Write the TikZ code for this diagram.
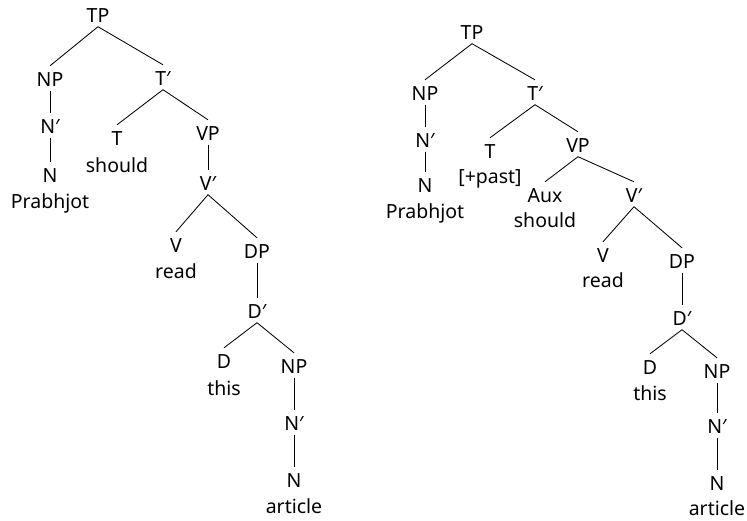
\documentclass[tikz,border=0pt]{standalone}
\usepackage{fontspec}
\setmainfont{Noto Sans}
\begin{document}
\begin{tikzpicture}[x=1pt,y=-1pt,
  cat/.style={anchor=base, inner sep=0pt, text height=20pt, text depth=4.5pt, font=\fontsize{19.5}{22}\selectfont},
  word/.style={anchor=base, inner sep=0pt, font=\fontsize{19.5}{22}\selectfont},
  edge/.style={draw=black, line width=0.85pt}]
\useasboundingbox (0,0) rectangle (747,520);
% left tree
\node[cat] (lTP) at (98,22) {TP};
\node[cat] (lNP) at (50,86) {NP};
\node[cat] (lNb) at (50,133) {N′};
\node[cat] (lN) at (50,182) {N};
\node[word] (lw1) at (50,208) {Prabhjot};
\node[cat] (lTb) at (163,85) {T′};
\node[cat] (lT) at (117,145) {T};
\node[word] (lw2) at (117,172) {should};
\node[cat] (lVP) at (208,140) {VP};
\node[cat] (lVb) at (208,190) {V′};
\node[cat] (lV) at (176,252) {V};
\node[word] (lw3) at (176,278) {read};
\node[cat] (lDP) at (257,258) {DP};
\node[cat] (lDb) at (257,318) {D′};
\node[cat] (lD) at (224,368) {D};
\node[word] (lw4) at (224,395) {this};
\node[cat] (lNP2) at (294,373) {NP};
\node[cat] (lNb2) at (294,430) {N′};
\node[cat] (lN2) at (294,487) {N};
\node[word] (lw5) at (294,513) {article};
\draw[edge] (lTP.south) -- (lNP.north);
\draw[edge] (lTP.south) -- (lTb.north);
\draw[edge] (lNP.south) -- (lNb.north);
\draw[edge] (lNb.south) -- (lN.north);
\draw[edge] (lTb.south) -- (lT.north);
\draw[edge] (lTb.south) -- (lVP.north);
\draw[edge] (lVP.south) -- (lVb.north);
\draw[edge] (lVb.south) -- (lV.north);
\draw[edge] (lVb.south) -- (lDP.north);
\draw[edge] (lDP.south) -- (lDb.north);
\draw[edge] (lDb.south) -- (lD.north);
\draw[edge] (lDb.south) -- (lNP2.north);
\draw[edge] (lNP2.south) -- (lNb2.north);
\draw[edge] (lNb2.south) -- (lN2.north);
% right tree
\node[cat] (rTP) at (472,39) {TP};
\node[cat] (rNP) at (425,100) {NP};
\node[cat] (rNb) at (425,147) {N′};
\node[cat] (rN) at (425,192) {N};
\node[word] (rw1) at (425,218) {Prabhjot};
\node[cat] (rTb) at (535,100) {T′};
\node[cat] (rT) at (490,158) {T};
\node[word] (rw2) at (490,183) {[+past]};
\node[cat] (rVP) at (578,152) {VP};
\node[cat] (rAux) at (545,202) {Aux};
\node[word] (rw3) at (545,227) {should};
\node[cat] (rVb) at (634,202) {V′};
\node[cat] (rV) at (603,262) {V};
\node[word] (rw4) at (603,287) {read};
\node[cat] (rDP) at (682,268) {DP};
\node[cat] (rDb) at (682,325) {D′};
\node[cat] (rD) at (650,374) {D};
\node[word] (rw5) at (650,400) {this};
\node[cat] (rNP2) at (717,378) {NP};
\node[cat] (rNb2) at (717,433) {N′};
\node[cat] (rN2) at (717,490) {N};
\node[word] (rw6) at (717,515) {article};
\draw[edge] (rTP.south) -- (rNP.north);
\draw[edge] (rTP.south) -- (rTb.north);
\draw[edge] (rNP.south) -- (rNb.north);
\draw[edge] (rNb.south) -- (rN.north);
\draw[edge] (rTb.south) -- (rT.north);
\draw[edge] (rTb.south) -- (rVP.north);
\draw[edge] (rVP.south) -- (rAux.north);
\draw[edge] (rVP.south) -- (rVb.north);
\draw[edge] (rVb.south) -- (rV.north);
\draw[edge] (rVb.south) -- (rDP.north);
\draw[edge] (rDP.south) -- (rDb.north);
\draw[edge] (rDb.south) -- (rD.north);
\draw[edge] (rDb.south) -- (rNP2.north);
\draw[edge] (rNP2.south) -- (rNb2.north);
\draw[edge] (rNb2.south) -- (rN2.north);
\end{tikzpicture}
\end{document}
